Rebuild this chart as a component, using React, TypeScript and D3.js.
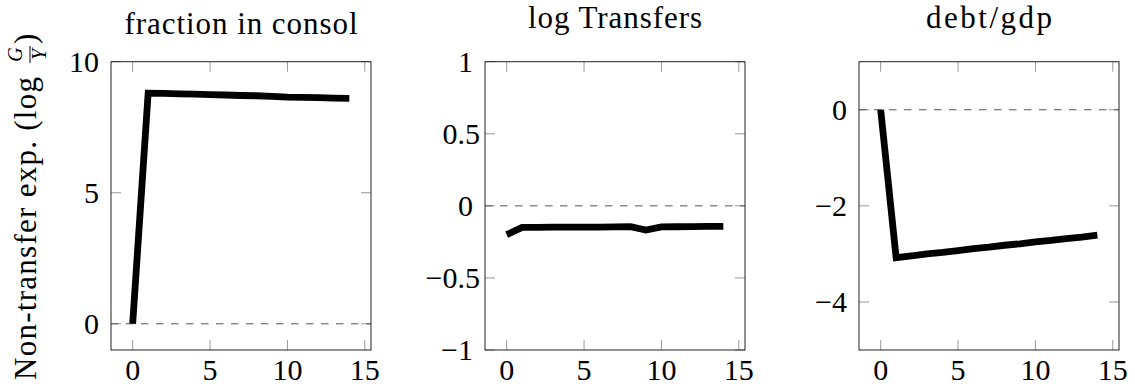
import * as d3 from "d3";
import React from "react";

// impulse responses, horizon 0..14
const steps = [0, 1, 2, 3, 4, 5, 6, 7, 8, 9, 10, 11, 12, 13, 14];
const fractionConsol = [0, 8.8, 8.79, 8.77, 8.76, 8.74, 8.73, 8.71, 8.7, 8.68, 8.65, 8.64, 8.63, 8.61, 8.6];
const logTransfers = [-0.2, -0.15, -0.149, -0.148, -0.148, -0.147, -0.147, -0.146, -0.145, -0.168, -0.146, -0.145, -0.144, -0.143, -0.142];
const debtGdp = [0, -3.08, -3.04, -3.0, -2.97, -2.93, -2.89, -2.86, -2.82, -2.79, -2.75, -2.72, -2.68, -2.65, -2.61];

const titles = ["fraction in consol", "log Transfers", "debt/gdp"];
const xTicks = [0, 5, 10, 15];
const yTicksConsol = [0, 5, 10];
const yTicksTransfers = [-1, -0.5, 0, 0.5, 1];
const yTicksDebt = [-4, -2, 0];

const W = 1135, H = 387;
const FONT = "'Liberation Serif', 'Times New Roman', serif";

type Panel = {
  title: string, values: number[], yDomain: [number, number], yTicks: number[],
  left: number, titleY: number, titleLen: number
}

const panels: Panel[] = [
  { title: titles[0], values: fractionConsol, yDomain: [-1, 10], yTicks: yTicksConsol, left: 111, titleY: 34, titleLen: 233 },
  { title: titles[1], values: logTransfers, yDomain: [-1, 1], yTicks: yTicksTransfers, left: 485, titleY: 28, titleLen: 174 },
  { title: titles[2], values: debtGdp, yDomain: [-5, 1], yTicks: yTicksDebt, left: 859, titleY: 28, titleLen: 126 },
];

const plotW = 260, top = 61.7, bottom = 350;

const fmt = (v: number) => (v < 0 ? "\u2212" : "") + String(Math.abs(v));

const PanelView: React.FC<{ p: Panel }> = ({ p }) => {
  const x = d3.scaleLinear([-1.4, 15.4], [p.left, p.left + plotW]);
  const y = d3.scaleLinear(p.yDomain, [bottom, top]);
  const line = d3.line<number>().x((_, i) => x(steps[i])).y(d => y(d));
  const tl = 10;
  return (
    <g>
      <text x={p.left + plotW / 2} y={p.titleY} textAnchor="middle" fontSize={31} fontFamily={FONT}
        textLength={p.titleLen} lengthAdjust="spacing">{p.title}</text>
      {/* ticks on all four sides, pointing in */}
      {xTicks.map(t => (
        <g key={"x" + t} stroke="#999" strokeWidth={1}>
          <line x1={x(t)} x2={x(t)} y1={bottom} y2={bottom - tl} />
          <line x1={x(t)} x2={x(t)} y1={top} y2={top + tl} />
        </g>
      ))}
      {p.yTicks.map(t => (
        <g key={"y" + t} stroke="#999" strokeWidth={1}>
          <line x1={p.left} x2={p.left + tl} y1={y(t)} y2={y(t)} />
          <line x1={p.left + plotW} x2={p.left + plotW - tl} y1={y(t)} y2={y(t)} />
        </g>
      ))}
      <line x1={p.left} x2={p.left + plotW} y1={y(0)} y2={y(0)} stroke="#555" strokeWidth={1} strokeDasharray="7.5,7.5" />
      <path d={line(p.values) || ""} fill="none" stroke="#000" strokeWidth={6.8} strokeLinejoin="miter" />
      <rect x={p.left} y={top} width={plotW} height={bottom - top} fill="none" stroke="#222" strokeWidth={1} />
      {xTicks.map(t => (
        <text key={"xl" + t} x={x(t)} y={379.5} textAnchor="middle" fontSize={30} fontFamily={FONT}>{t}</text>
      ))}
      {p.yTicks.map(t => (
        <text key={"yl" + t} x={p.left - (Number.isInteger(t) ? 12 : 5)} y={y(t)} dy="0.34em" textAnchor="end"
          fontSize={30} fontFamily={FONT}>{fmt(t)}</text>
      ))}
    </g>
  );
};

export default function App() {
  return (
    <svg width={W} height={H} style={{ position: "absolute", left: 0, top: 0, background: "#fff" }}>
      <rect width={W} height={H} fill="#fff" />
      {panels.map((p, i) => <PanelView key={i} p={p} />)}
      <g transform="translate(36, 380) rotate(-90)" fontFamily={FONT} fontSize={31}>
        <text x={0} y={0} textLength={303} lengthAdjust="spacing">Non-transfer exp. (log</text>
        <text x={325.5} y={-14} fontSize={20} textAnchor="middle" fontStyle="italic">G</text>
        <line x1={317} x2={334} y1={-6} y2={-6} stroke="#000" strokeWidth={1} />
        <text x={325.5} y={10} fontSize={20} textAnchor="middle" fontStyle="italic">Y</text>
        <text x={336} y={0}>)</text>
      </g>
    </svg>
  );
}
